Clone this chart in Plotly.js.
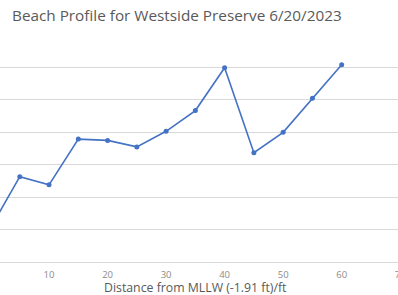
<!DOCTYPE html>
<html>
<head>
<meta charset="utf-8">
<script src="https://cdn.plot.ly/plotly-3.0.1.min.js"></script>
<style>
html,body{margin:0;padding:0;overflow:hidden;background:#fff;}
#chart{width:404px;height:295px;}
</style>
</head>
<body>
<div id="chart"></div>
<script>
const distance = [0, 5, 10, 15, 20, 25, 30, 35, 40, 45, 50, 55, 60];
const elevation = [1.05, 2.63, 2.38, 3.79, 3.75, 3.55, 4.03, 4.67, 5.99, 3.37, 4.0, 5.05, 6.08];
const xTicks = [10, 20, 30, 40, 50, 60, 70];
const yTicks = [0, 1, 2, 3, 4, 5, 6, 7];

const trace = {
  x: distance,
  y: elevation,
  type: 'scatter',
  mode: 'lines+markers',
  line: {color: '#4472C4', width: 1.6},
  marker: {color: '#4472C4', size: 5},
  cliponaxis: true,
  hoverinfo: 'none'
};

const layout = {
  width: 404,
  height: 295,
  margin: {l: 0, r: 0, t: 35, b: 33},
  paper_bgcolor: '#ffffff',
  plot_bgcolor: '#ffffff',
  showlegend: false,
  title: {
    text: 'Beach Profile for Westside Preserve 6/20/2023',
    font: {family: 'Open Sans, Liberation Sans, sans-serif', size: 15.3, color: '#595959'},
    x: 12/404, xanchor: 'left', xref: 'paper',
    y: 1 - 16/295, yanchor: 'middle', yref: 'container'
  },
  xaxis: {
    range: [1.62, 70.65],
    tickmode: 'array',
    tickvals: xTicks,
    ticktext: xTicks.map(String),
    showgrid: false,
    zeroline: false,
    showline: false,
    ticks: '',
    tickfont: {family: 'Open Sans, Liberation Sans, sans-serif', size: 9.5, color: '#8c8c8c'},
    ticklabelstandoff: 5,
    ticklabeloverflow: 'allow',
    fixedrange: true
  },
  yaxis: {
    range: [0, 7],
    tickmode: 'array',
    tickvals: yTicks,
    showticklabels: false,
    showgrid: true,
    gridcolor: '#d9d9d9',
    gridwidth: 1,
    zeroline: true,
    zerolinecolor: '#d9d9d9',
    zerolinewidth: 1,
    showline: false,
    ticks: '',
    fixedrange: true
  },
  annotations: [{
    text: 'Distance from MLLW (-1.91 ft)/ft',
    xref: 'paper', yref: 'paper',
    x: 195/404, xanchor: 'center',
    y: -(287.5 - 262)/227, yanchor: 'middle',
    showarrow: false,
    font: {family: 'Open Sans, Liberation Sans, sans-serif', size: 12.3, color: '#595959'}
  }]
};

Plotly.newPlot('chart', [trace], layout, {displayModeBar: false, staticPlot: true});
</script>
</body>
</html>
